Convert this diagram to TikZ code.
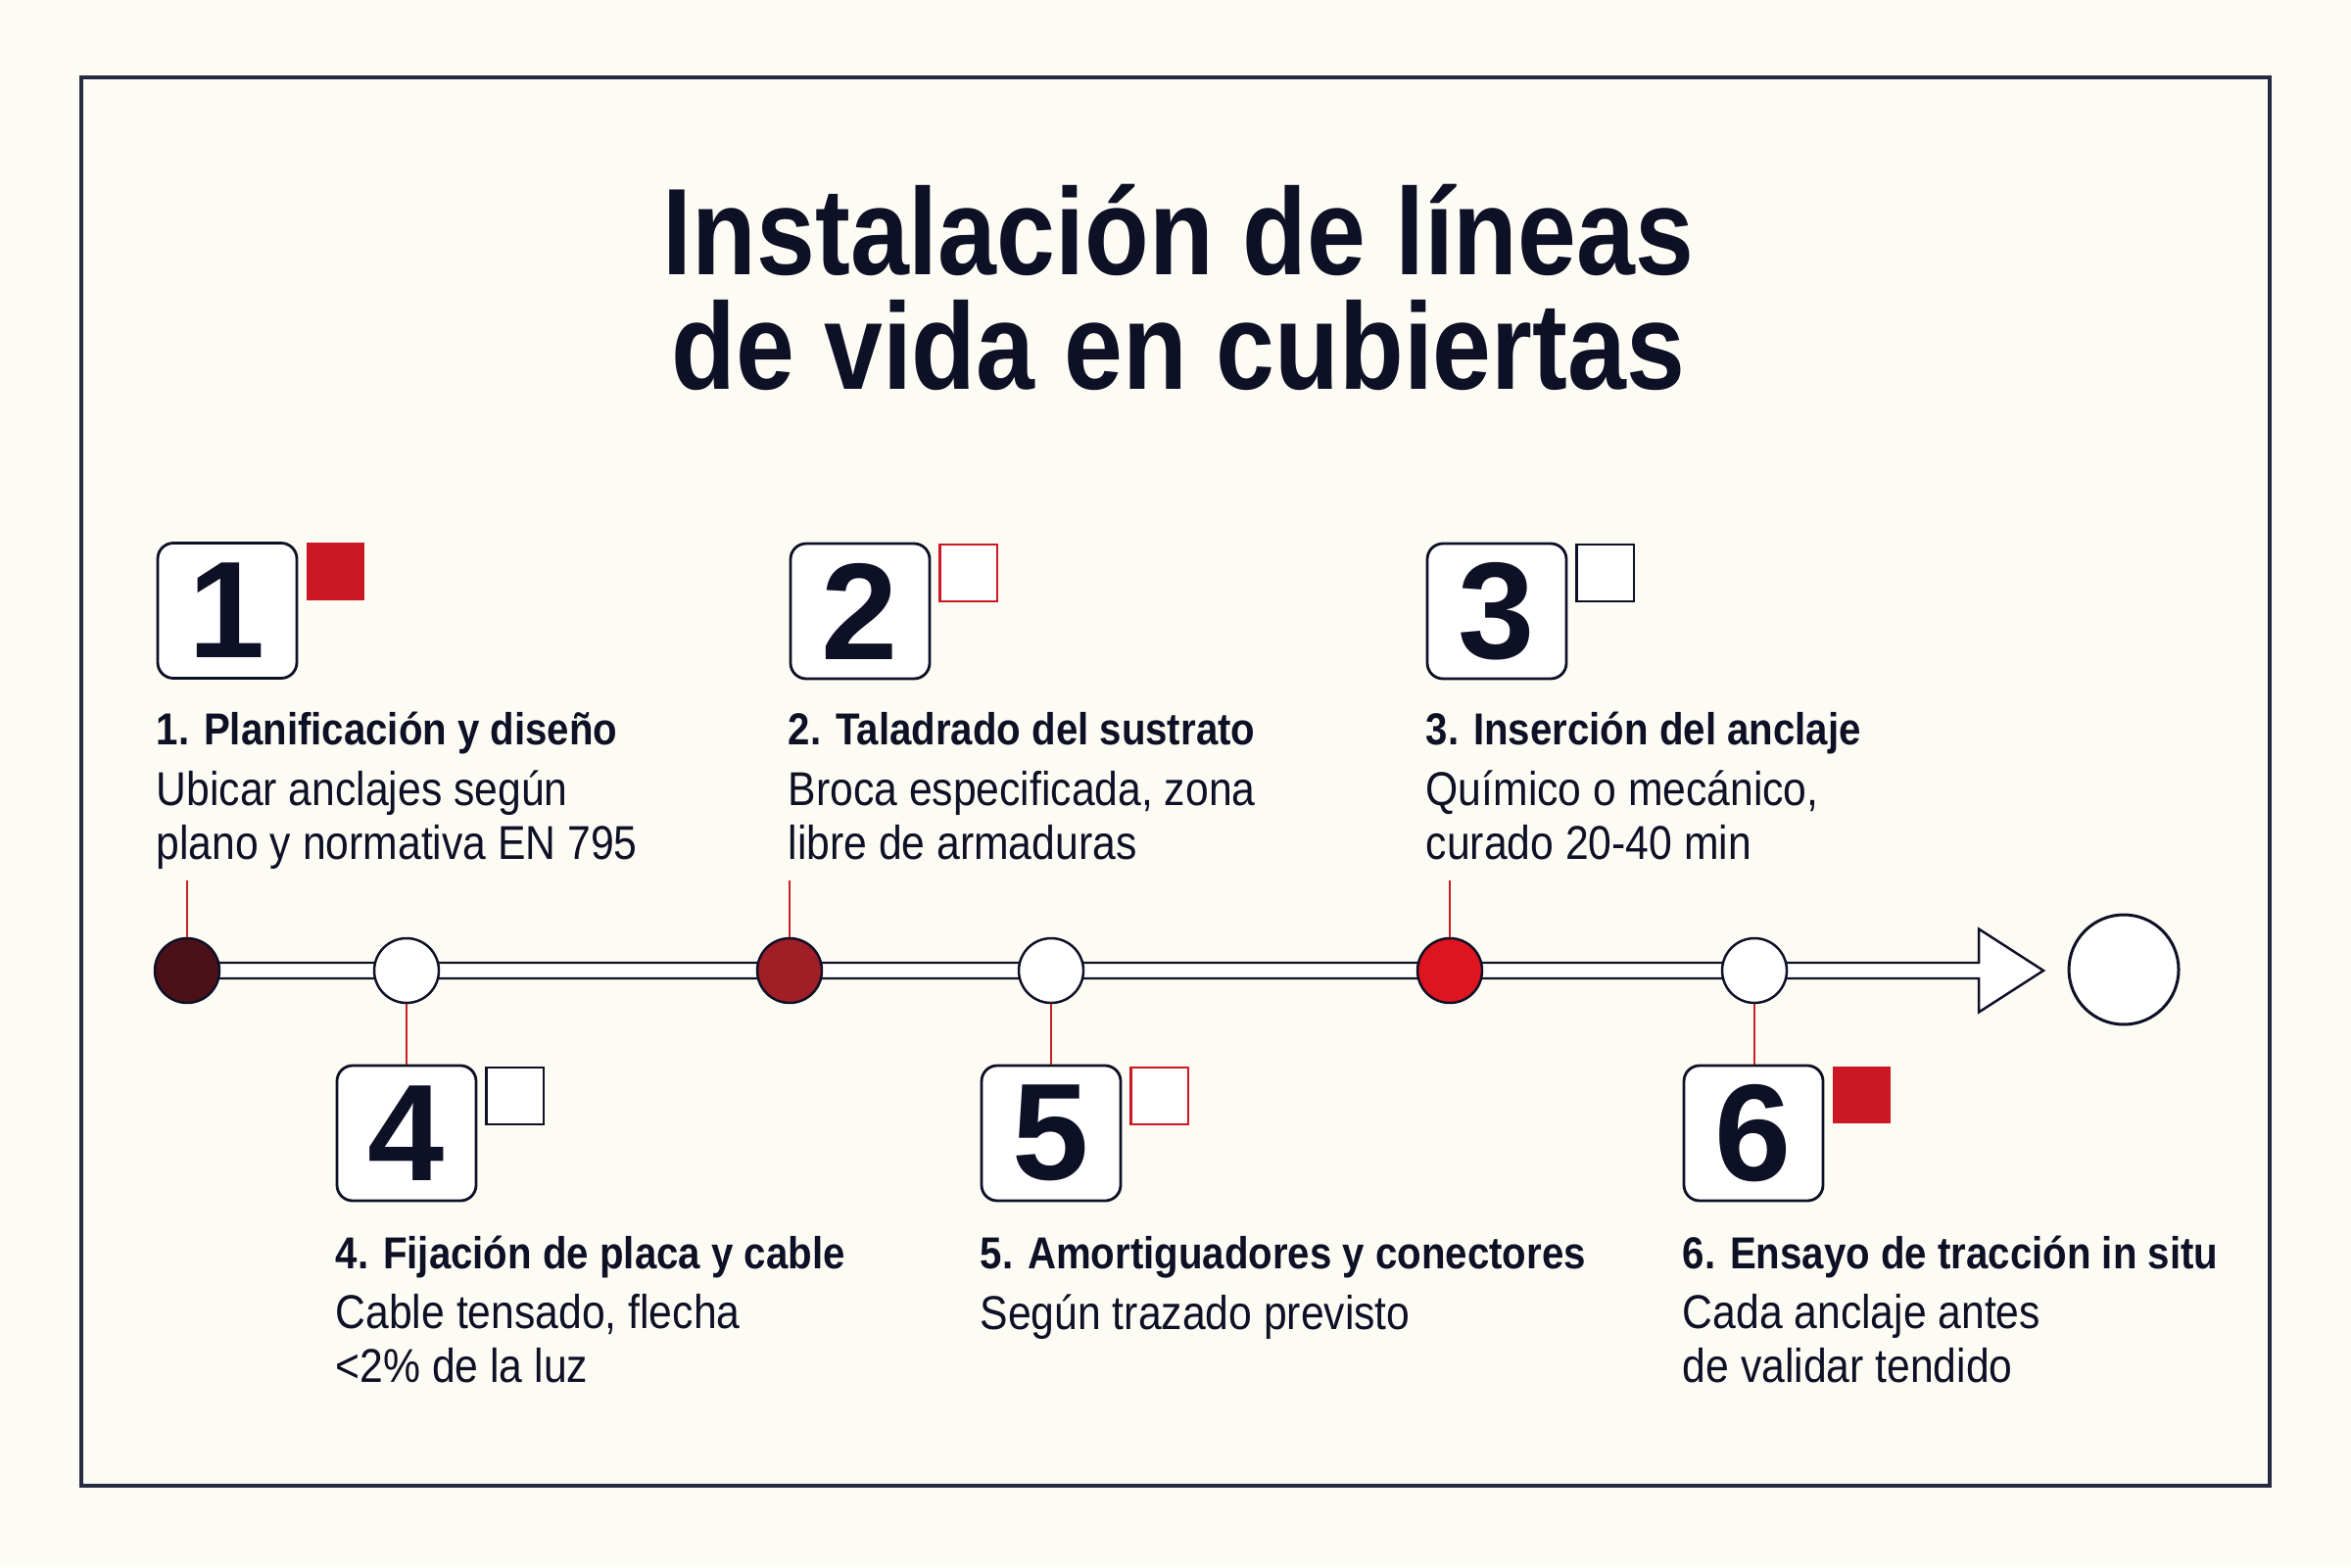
\documentclass[tikz,border=0pt]{standalone}
\usepackage{fontspec}
\setmainfont{Liberation Sans}[FakeStretch=0.88]
\newfontfamily\titlefont{Liberation Sans}[FakeStretch=0.855]
\newfontfamily\digitfont{Liberation Sans}
\usetikzlibrary{positioning, calc}

\definecolor{paper}{RGB}{253,252,244}
\definecolor{ink}{RGB}{14,16,38}
\definecolor{frameblue}{RGB}{40,42,66}
\definecolor{flagred}{RGB}{204,24,36}
\definecolor{linkred}{RGB}{200,30,40}
\definecolor{dotA}{RGB}{75,16,24}
\definecolor{dotB}{RGB}{160,30,38}
\definecolor{dotC}{RGB}{222,20,30}

\begin{document}
\begin{tikzpicture}[
    numbox/.style={draw=ink, line width=0.8pt, fill=white, rounded corners=0.16cm,
                   minimum width=1.42cm, minimum height=1.38cm, inner sep=0pt, text=ink,
                   font=\digitfont\fontsize{40}{40}\selectfont\bfseries},
    flag/.style={minimum size=0.585cm, inner sep=0pt, line width=0.6pt},
    dot/.style={circle, draw=ink, line width=0.7pt, minimum size=0.66cm,
                inner sep=0pt, fill=white},
    stephead/.style={anchor=base west, inner sep=0pt, text=ink,
                     font=\fontsize{13}{15}\selectfont\bfseries},
    stepbody/.style={anchor=base west, inner sep=0pt, text=ink, align=left,
                     font=\fontsize{13.8}{15.4}\selectfont},
    link/.style={draw=linkred, line width=0.6pt},
    shaft/.style={draw=ink, fill=white, line width=0.7pt, line join=miter}
  ]

  % Page and frame
  \fill[paper] (0,0) rectangle (24,-16);
  \useasboundingbox (0,0) rectangle (24,-16);
  \draw[frameblue, line width=1.1pt] (0.83,-0.79) rectangle (23.17,-15.17);

  % Title (base = last line)
  \node[anchor=base, align=center, inner sep=0pt, text=ink,
        font=\titlefont\bfseries\fontsize{35.8}{33.3}\selectfont] (title) at (12.03,-3.98)
    {Instalación de líneas\\de vida en cubiertas};

  % Timeline shaft with open arrow head
  \coordinate (start) at (1.91,-9.91);
  \coordinate (tip) at (20.86,-9.91);
  \draw[shaft] ($(start)+(0,0.08)$) -- ($(tip)+(-0.66,0.08)$) -- ($(tip)+(-0.66,0.425)$)
    -- (tip) -- ($(tip)+(-0.66,-0.425)$) -- ($(tip)+(-0.66,-0.08)$)
    -- ($(start)+(0,-0.08)$) -- cycle;

  % Timeline dots
  \node[dot, fill=dotA] (c1) at (start) {};
  \node[dot] (c4) at (4.15,-9.91) {};
  \node[dot, fill=dotB] (c2) at (8.06,-9.91) {};
  \node[dot] (c5) at (10.73,-9.91) {};
  \node[dot, fill=dotC] (c3) at (14.80,-9.91) {};
  \node[dot] (c6) at (17.91,-9.91) {};
  \node[circle, draw=ink, line width=0.85pt, fill=white, minimum size=1.12cm,
        inner sep=0pt] (fin) at (21.68,-9.90) {};

  % Number boxes
  \node[numbox] (n1) at (2.32,-6.235) {1};
  \node[numbox] (n2) at (8.78,-6.24) {2};
  \node[numbox] (n3) at (15.28,-6.24) {3};
  \node[numbox] (n4) at (4.15,-11.57) {4};
  \node[numbox] (n5) at (10.73,-11.57) {5};
  \node[numbox] (n6) at (17.90,-11.57) {6};

  % Flags
  \node[flag, fill=flagred, below right=0cm and 0.08cm of n1.north east] (f1) {};
  \node[flag, draw=flagred, fill=white, below right=0.01cm and 0.08cm of n2.north east] (f2) {};
  \node[flag, draw=ink, fill=white, below right=0.01cm and 0.08cm of n3.north east] (f3) {};
  \node[flag, draw=ink, fill=white, below right=0.02cm and 0.08cm of n4.north east] (f4) {};
  \node[flag, draw=flagred, fill=white, below right=0.02cm and 0.08cm of n5.north east] (f5) {};
  \node[flag, fill=flagred, below right=0.01cm and 0.08cm of n6.north east] (f6) {};

  % Step texts (body nodes sit on their last baseline)
  \node[stephead] (h1) at (1.59,-7.60) {1. Planificación y diseño};
  \node[stepbody] (b1) at (1.59,-8.77) {Ubicar anclajes según\\plano y normativa EN 795};
  \node[stephead] (h2) at (8.04,-7.60) {2. Taladrado del sustrato};
  \node[stepbody] (b2) at (8.04,-8.77) {Broca especificada, zona\\libre de armaduras};
  \node[stephead] (h3) at (14.55,-7.60) {3. Inserción del anclaje};
  \node[stepbody] (b3) at (14.55,-8.77) {Químico o mecánico,\\curado 20-40 min};
  \node[stephead] (h4) at (3.42,-12.95) {4. Fijación de placa y cable};
  \node[stepbody] (b4) at (3.42,-14.11) {Cable tensado, flecha\\<2\% de la luz};
  \node[stephead] (h5) at (10.00,-12.95) {5. Amortiguadores y conectores};
  \node[stepbody] (b5) at (10.00,-13.57) {Según trazado previsto};
  \node[stephead] (h6) at (17.17,-12.95) {6. Ensayo de tracción in situ};
  \node[stepbody] (b6) at (17.17,-14.11) {Cada anclaje antes\\de validar tendido};

  % Red links
  \foreach \c in {c1,c2,c3}
    \draw[link] (\c.north) -- ++(0,0.58);
  \foreach \c/\n in {c4/n4,c5/n5,c6/n6}
    \draw[link] (\c.south) -- (\c.south |- \n.north);

\end{tikzpicture}
\end{document}
